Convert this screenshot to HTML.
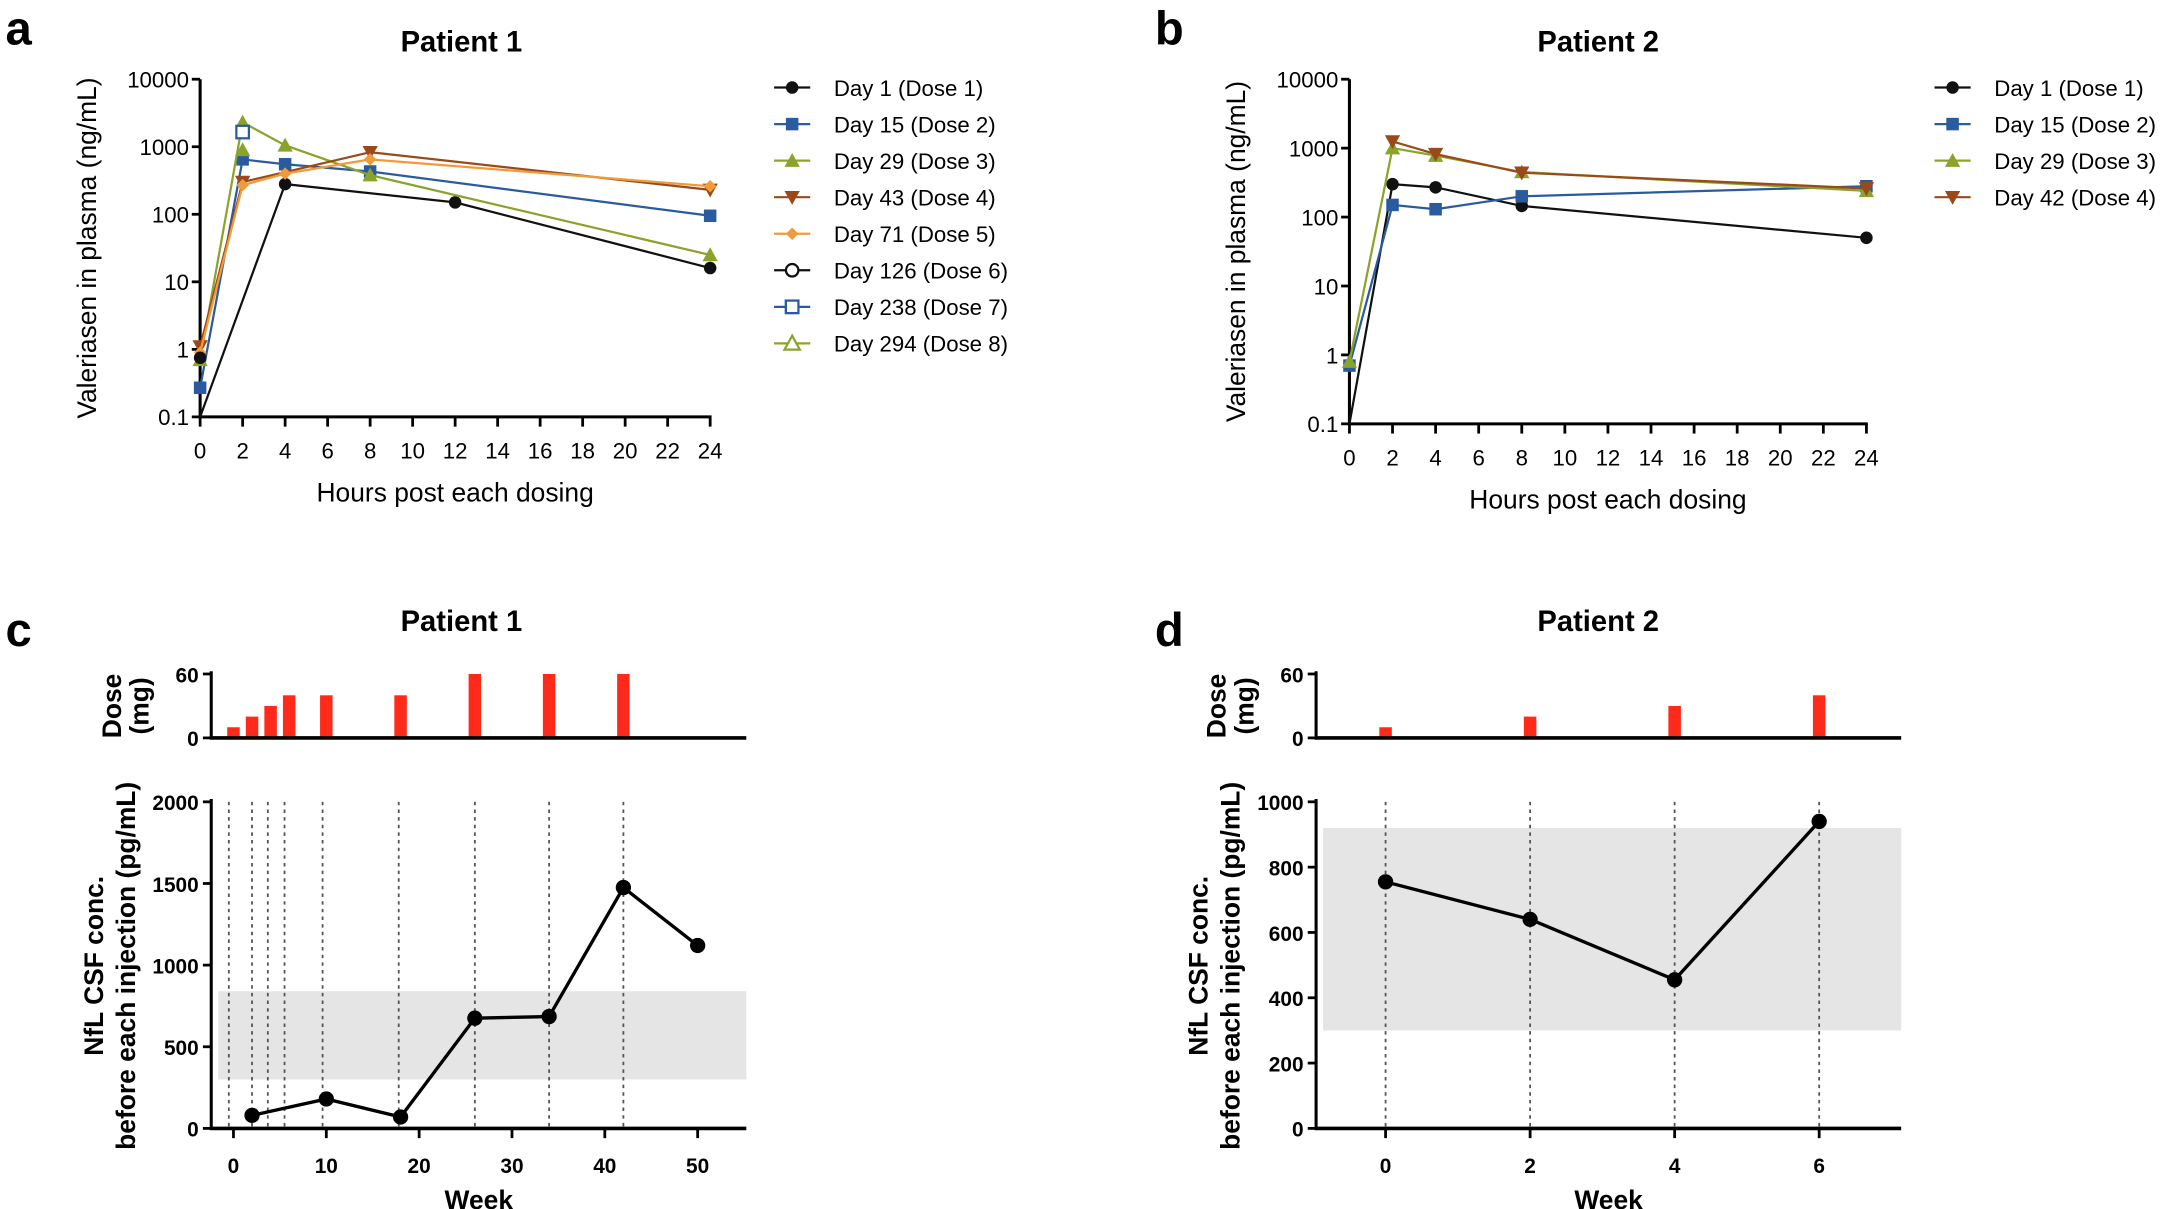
<!DOCTYPE html>
<html><head><meta charset="utf-8"><style>
html,body{margin:0;padding:0;background:#fff;}
svg{display:block;}
text{font-family:"Liberation Sans",Arial,sans-serif;}
</style></head><body>
<svg id="s" width="2168" height="1209" viewBox="0 0 1560 870" preserveAspectRatio="none" xmlns="http://www.w3.org/2000/svg"></svg>
<script>
const S=document.getElementById('s');let h='';
function T(x,y,t,o){o=o||{};h+=`<text x="${x}" y="${y}" font-size="${o.fs||16}" text-anchor="${o.a||'middle'}" ${o.b?'font-weight="bold"':''} ${o.r?`transform="rotate(-90 ${x} ${y})"`:''} fill="#000">${t}</text>`;}
function L(x1,y1,x2,y2,c,w,d){h+=`<line x1="${x1}" y1="${y1}" x2="${x2}" y2="${y2}" stroke="${c||'#000'}" stroke-width="${w||2}" ${d?`stroke-dasharray="${d}"`:''}/>`;}
function M(x,y,k,c,r){r=r||4.5;
 if(k=='c')h+=`<circle cx="${x}" cy="${y}" r="${r}" fill="${c}"/>`;
 else if(k=='oc')h+=`<circle cx="${x}" cy="${y}" r="${r}" fill="#fff" stroke="${c}" stroke-width="1.6"/>`;
 else if(k=='s')h+=`<rect x="${x-r}" y="${y-r}" width="${2*r}" height="${2*r}" fill="${c}"/>`;
 else if(k=='os')h+=`<rect x="${x-r}" y="${y-r}" width="${2*r}" height="${2*r}" fill="#fff" stroke="${c}" stroke-width="1.6"/>`;
 else if(k=='t')h+=`<polygon points="${x},${y-r-1} ${x-r-1},${y+r} ${x+r+1},${y+r}" fill="${c}"/>`;
 else if(k=='ot')h+=`<polygon points="${x},${y-r-1} ${x-r-1},${y+r} ${x+r+1},${y+r}" fill="#fff" stroke="${c}" stroke-width="1.6"/>`;
 else if(k=='d')h+=`<polygon points="${x},${y+r+1} ${x-r-1},${y-r} ${x+r+1},${y-r}" fill="${c}"/>`;
 else if(k=='dm')h+=`<polygon points="${x},${y-r} ${x+r},${y} ${x},${y+r} ${x-r},${y}" fill="${c}"/>`;
}
function logPanel(x0,x1,ytop,ybot,title,tx,letter,lx,series,legx,legy){
 const px=t=>x0+(x1-x0)*t/24, py=v=>ybot-(Math.log10(v)+1)/5*(ybot-ytop);
 T(lx,32,letter,{fs:34,b:1,a:'start'});T(tx,37,title,{fs:21,b:1});
 L(x0,ytop,x0,ybot+1,'#000',2.2);L(x0-1,ybot,x1+1,ybot,'#000',2.2);
 ['0.1','1','10','100','1000','10000'].forEach((s,i)=>{const y=ybot-i*(ybot-ytop)/5;L(x0-6,y,x0,y);T(x0-8,y+6,s,{a:'end',fs:16});});
 for(let t=0;t<=24;t+=2){const x=px(t);L(x,ybot,x,ybot+7);T(x,ybot+30,t,{fs:16});}
 T((x0+x1)/2,ybot+61,'Hours post each dosing',{fs:19});
 T(x0-75,(ytop+ybot)/2,'Valeriasen in plasma (ng/mL)',{fs:19,r:1});
 series.forEach((s,i)=>{const pts=s.p.map(q=>[px(q[0]),py(q[1])]);
  if(pts.length>1)h+=`<polyline points="${pts.map(p=>p.join(',')).join(' ')}" fill="none" stroke="${s.c}" stroke-width="1.6"/>`;
  pts.forEach((p,j)=>{if(!(s.nm&&s.nm.includes(j)))M(p[0],p[1],s.k,s.c);});});
 series.filter(s=>s.n).forEach((s,i)=>{const y=legy+i*26.3;L(legx-13,y,legx+13,y,s.c,1.6);M(legx,y,s.k,s.c);T(legx+30,y+6,s.n,{a:'start',fs:16});});
}
const BK='#111',BL='#2a5b9e',GR='#8aa32a',BR='#9a4a1a',OR='#f09a3a';
logPanel(144,511,57,300,'Patient 1',332,'a',4,[
 {n:'Day 1 (Dose 1)',c:BK,k:'c',nm:[0],p:[[0,0.1],[4,280],[12,150],[24,16]]},
 {n:'Day 15 (Dose 2)',c:BL,k:'s',p:[[0,0.27],[2,650],[4,550],[8,430],[24,95]]},
 {n:'Day 29 (Dose 3)',c:GR,k:'t',p:[[0,0.7],[2,2300],[4,1050],[8,380],[24,25]]},
 {n:'Day 43 (Dose 4)',c:BR,k:'d',p:[[0,1.1],[2,300],[8,830],[24,230]]},
 {n:'Day 71 (Dose 5)',c:OR,k:'dm',p:[[0,0.9],[2,270],[4,400],[8,650],[24,260]]},
 {n:'Day 126 (Dose 6)',c:BK,k:'c',p:[[0,0.75]]},
 {n:'Day 238 (Dose 7)',c:BL,k:'os',p:[[2,1650]]},
 {n:'Day 294 (Dose 8)',c:GR,k:'t',p:[[2,900]]}
],570,63);
// fix legend markers for open styles
logPanel(971,1343,57,305,'Patient 2',1150,'b',831,[
 {n:'Day 1 (Dose 1)',c:BK,k:'c',nm:[0],p:[[0,0.1],[2,300],[4,270],[8,145],[24,50]]},
 {n:'Day 15 (Dose 2)',c:BL,k:'s',p:[[0,0.7],[2,150],[4,130],[8,200],[24,280]]},
 {n:'Day 29 (Dose 3)',c:GR,k:'t',p:[[0,0.8],[2,1000],[4,780],[8,450],[24,240]]},
 {n:'Day 42 (Dose 4)',c:BR,k:'d',p:[[2,1250],[4,820],[8,440],[24,260]]}
],1405,63);
// open legend markers for panel a
[[5,'oc',BK],[6,'os',BL],[7,'ot',GR]].forEach(a=>M(570,63+a[0]*26.3,a[1],a[2]));
function nfl(ax0,ax1,wx0,wpx,ymax,yticks,band,doses,dlines,data,title,tx,letter,lx,xt){
 const px=w=>wx0+w*wpx, py=v=>812-v/ymax*235, dy=v=>531-v/60*46;
 T(lx,465,letter,{fs:34,b:1,a:'start'});T(tx,454,title,{fs:21,b:1});
 doses.forEach(d=>h+=`<rect x="${px(d[0])-4.5}" y="${dy(d[1])}" width="9" height="${531-dy(d[1])}" fill="#ff2a1a"/>`);
 L(ax0,483,ax0,532,'#000',2.2);L(ax0-1,531,ax1,531,'#000',2.6);
 L(ax0-6,485,ax0,485);L(ax0-6,531,ax0,531);
 T(ax0-9,491,'60',{a:'end',fs:15,b:1});T(ax0-9,537,'0',{a:'end',fs:15,b:1});
 T(ax0-65,508,'Dose',{fs:19,b:1,r:1});T(ax0-45,508,'(mg)',{fs:19,b:1,r:1});
 h+=`<rect x="${ax0+5}" y="${py(band[1])}" width="${ax1-ax0-5}" height="${py(band[0])-py(band[1])}" fill="#e5e5e5"/>`;
 dlines.forEach(w=>L(px(w),577,px(w),812,'#555',1.3,'2.5,3'));
 L(ax0,575,ax0,813,'#000',2.2);L(ax0-1,812,ax1,812,'#000',2.6);
 yticks.forEach(v=>{const y=py(v);L(ax0-6,y,ax0,y);T(ax0-9,y+6,v,{a:'end',fs:15,b:1});});
 xt.forEach(w=>{const x=px(w);L(x,812,x,819);T(x,844,w,{fs:15,b:1});});
 T((ax0+ax1)/2,870,'Week',{fs:19,b:1});
 T(ax0-78,695,'NfL CSF conc.',{fs:19,b:1,r:1});T(ax0-55,695,'before each injection (pg/mL)',{fs:19,b:1,r:1});
 h+=`<polyline points="${data.map(d=>px(d[0])+','+py(d[1])).join(' ')}" fill="none" stroke="#000" stroke-width="2.4"/>`;
 data.forEach(d=>M(px(d[0]),py(d[1]),'c','#000',5.5));
}
nfl(152,537,168,6.68,2000,[0,500,1000,1500,2000],[300,840],
 [[0,10],[2,20],[4,30],[6,40],[10,40],[18,40],[26,60],[34,60],[42,60]],
 [-0.5,2,3.7,5.5,9.6,17.8,26,34,42],
 [[2,80],[10,180],[18,70],[26,675],[34,685],[42,1475],[50,1120]],'Patient 1',332,'c',4,[0,10,20,30,40,50]);
nfl(947,1368,997,52,1000,[0,200,400,600,800,1000],[300,920],
 [[0,10],[2,20],[4,30],[6,40]],[0,2,4,6],
 [[0,755],[2,640],[4,455],[6,940]],'Patient 2',1150,'d',831,[0,2,4,6]);
S.innerHTML=h;
</script>
</body></html>
